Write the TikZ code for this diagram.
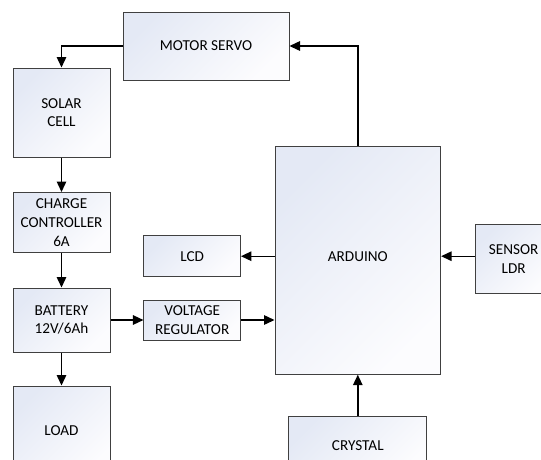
\documentclass[tikz,border=0pt]{standalone}
\usepackage{fontspec}
\setmainfont{Carlito}
\usetikzlibrary{arrows.meta}
\definecolor{boxtop}{HTML}{E4E9F5}
\definecolor{boxbot}{HTML}{FCFCFE}
\definecolor{boxline}{HTML}{404040}
\tikzset{
  blk/.style={draw=boxline, line width=1pt, inner sep=0pt, align=center,
    top color=boxtop, bottom color=boxbot, shading angle=45,
    font=\fontsize{15.2}{18.7}\selectfont},
  lbl/.style={inner sep=0pt, align=center, font=\fontsize{15.2}{18.7}\selectfont},
  arr/.style={line width=1.4pt, -{Triangle[length=10.5pt,width=9.5pt]}}
}
\begin{document}
\begin{tikzpicture}[x=1pt,y=-1pt]
\useasboundingbox (0,0) rectangle (541,459);
\clip (0,0) rectangle (541,459);
\node[blk, minimum width=166pt, minimum height=68pt] (servo) at (206,46) {MOTOR SERVO};
\node[blk, minimum width=97pt, minimum height=89pt] (solar) at (61.5,112.5) {SOLAR\\CELL};
\node[blk, minimum width=97pt, minimum height=60pt] (charge) at (61.5,222.5) {CHARGE\\CONTROLLER\\6A};
\node[blk, minimum width=97pt, minimum height=64pt] (battery) at (61.5,320) {BATTERY\\12V/6Ah};
\node[blk, minimum width=97pt, minimum height=90pt] (load) at (61.5,431) {LOAD};
\node[blk, minimum width=96.5pt, minimum height=40.5pt] (lcd) at (192.2,256.2) {LCD};
\node[blk, minimum width=96.5pt, minimum height=40pt] (vr) at (192.2,320) {VOLTAGE\\REGULATOR};
\node[blk, minimum width=165.6pt, minimum height=228pt] (arduino) at (357.8,260.2) {};
\node[lbl] (arduinotext) at (357.8,256.2) {ARDUINO};
\node[blk, minimum width=76.5pt, minimum height=68.5pt] (sensor) at (513.7,259) {SENSOR\\LDR};
\node[blk, minimum width=138pt, minimum height=60pt] (crystal) at (357.8,446) {CRYSTAL};
\draw[arr] (servo.west) -| (solar.north);
\draw[arr] (solar.south) -- (charge.north);
\draw[arr] (charge.south) -- (battery.north);
\draw[arr] (battery.south) -- (load.north);
\draw[arr] (battery.east) -- (vr.west);
\draw[arr] (vr.east) -- (vr.east -| arduino.west);
\draw[arr] (arduino.north) |- (servo.east);
\draw[arr] (arduino.west |- lcd.east) -- (lcd.east);
\draw[arr] (sensor.west |- lcd.east) -- (arduino.east |- lcd.east);
\draw[arr] (crystal.north) -- (arduino.south);
\end{tikzpicture}
\end{document}
